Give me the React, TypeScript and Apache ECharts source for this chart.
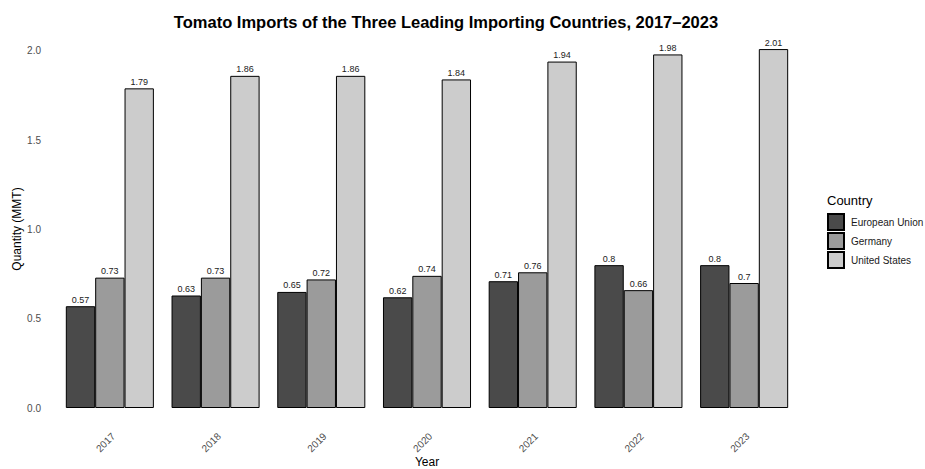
import React, { useEffect, useRef } from "react";
import * as echarts from "echarts";

const years = ["2017", "2018", "2019", "2020", "2021", "2022", "2023"];
const europeanUnion = [0.57, 0.63, 0.65, 0.62, 0.71, 0.8, 0.8];
const germany = [0.73, 0.73, 0.72, 0.74, 0.76, 0.66, 0.7];
const unitedStates = [1.79, 1.86, 1.86, 1.84, 1.94, 1.98, 2.01];
const countryNames = ["European Union", "Germany", "United States"];
const fills = ["#4a4a4a", "#9b9b9b", "#cccccc"];

const FONT = "'Liberation Sans', Arial, sans-serif";

export default function App() {
  const ref = useRef<HTMLDivElement>(null);

  useEffect(() => {
    if (!ref.current) return;
    const chart = echarts.init(ref.current, null, { renderer: "svg" });
    const seriesData = [europeanUnion, germany, unitedStates];

    chart.setOption({
      animation: false,
      backgroundColor: "#ffffff",
      textStyle: { fontFamily: FONT },
      title: {
        text: "Tomato Imports of the Three Leading Importing Countries, 2017–2023",
        left: 441,
        top: 8,
        textAlign: "center",
        textStyle: { fontFamily: FONT, fontSize: 16.5, fontWeight: "bold", color: "#000" },
      },
      grid: { left: 57, right: 128, top: 33, height: 375, outerBoundsMode: "none" },
      legend: {
        orient: "vertical",
        left: 827,
        top: 213,
        padding: 0,
        itemWidth: 16,
        itemHeight: 16,
        itemGap: 1,
        icon: "rect",
        data: countryNames,
        textStyle: { fontFamily: FONT, fontSize: 10, color: "#1a1a1a", padding: [0, 0, 0, 2] },
      },
      graphic: [
        {
          type: "text",
          left: 827,
          top: 194,
          style: { text: "Country", fontFamily: FONT, fontSize: 13, fill: "#000" },
        },
        {
          // y-axis title, centred on the panel including its padding
          type: "text",
          x: 17,
          y: 229,
          rotation: Math.PI / 2,
          style: {
            text: "Quantity (MMT)",
            fontFamily: FONT,
            fontSize: 12,
            fill: "#000",
            align: "center",
            verticalAlign: "middle",
          },
        },
        {
          // x-axis title
          type: "text",
          x: 427,
          y: 462,
          style: {
            text: "Year",
            fontFamily: FONT,
            fontSize: 12,
            fill: "#000",
            align: "center",
            verticalAlign: "middle",
          },
        },
      ],
      xAxis: {
        type: "category",
        data: years,
        axisLine: { show: false },
        axisTick: { show: false },
        splitLine: { show: false },
        axisLabel: {
          rotate: 45,
          margin: 23,
          verticalAlign: "top",
          fontFamily: FONT,
          fontSize: 10,
          color: "#4d4d4d",
        },
      },
      yAxis: {
        type: "value",
        min: 0,
        max: 2.1,
        interval: 0.5,
        axisLine: { show: false },
        axisTick: { show: false },
        splitLine: { show: false },
        axisLabel: {
          showMaxLabel: false,
          margin: 16,
          fontFamily: FONT,
          fontSize: 10,
          color: "#4d4d4d",
          formatter: (v: number) => v.toFixed(1),
        },
      },
      series: countryNames.map((name, i) => ({
        name,
        type: "bar",
        data: seriesData[i],
        barGap: "0%",
        barCategoryGap: "16.7%",
        itemStyle: { color: fills[i], borderColor: "#000", borderWidth: 1 },
        label: {
          show: true,
          position: "top",
          distance: 2,
          fontFamily: FONT,
          fontSize: 9,
          color: "#1a1a1a",
        },
      })),
    });

    return () => chart.dispose();
  }, []);

  return (
    <div
      ref={ref}
      style={{ position: "absolute", left: 0, top: 0, width: 925, height: 469 }}
    />
  );
}
